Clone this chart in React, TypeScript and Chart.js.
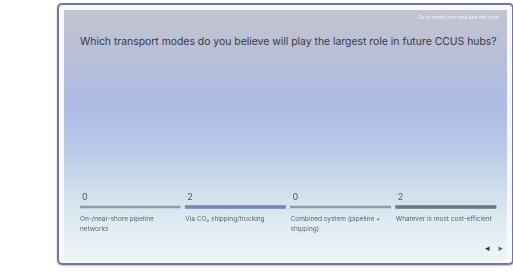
import React, { useEffect, useRef } from "react";
import { Chart, registerables } from "chart.js";

Chart.register(...registerables);

const title = "Which transport modes do you believe will play the largest role in future CCUS hubs?";
const headerNote = "Go to menti.com and use the code";
const categories: string[][] = [
  ["On-/near-shore pipeline", "networks"],
  ["Via CO₂ shipping/trucking"],
  ["Combined system (pipeline +", "shipping)"],
  ["Whatever is most cost-efficient"],
];
const votes = [0, 2, 0, 2];
const fillColors = ["#7d8ea0", "#7586c6", "#7d8ea0", "#687a82"];
const trackColor = "#8f9ba7";
const SPAN = 0.952;

export default function App() {
  const ref = useRef<HTMLCanvasElement | null>(null);
  useEffect(() => {
    if (!ref.current) return;
    const max = Math.max(...votes, 1);
    const fills = votes.map((v, i) => ({
      label: "fill" + i,
      data: [[i, i + (SPAN * v) / max]],
      backgroundColor: fillColors[i],
      barThickness: 3,
      grouped: false,
      borderWidth: 0,
    }));
    const tracks = votes.map((_, i) => ({
      label: "track" + i,
      data: [[i, i + SPAN]],
      backgroundColor: trackColor,
      barThickness: 2,
      grouped: false,
      borderWidth: 0,
    }));
    const textPlugin = {
      id: "texts",
      afterDatasetsDraw(chart: any) {
        const { ctx } = chart;
        const xs = chart.scales.x;
        const ys = chart.scales.y;
        const yc = ys.getPixelForValue(0);
        ctx.save();
        ctx.textBaseline = "middle";
        ctx.textAlign = "left";
        votes.forEach((v, i) => {
          const x = xs.getPixelForValue(i);
          ctx.fillStyle = "#50555e";
          ctx.font = "9px Inter, 'Open Sans', sans-serif";
          ctx.fillText(String(v), x + 2, yc - 10);
          ctx.fillStyle = "#5d626c";
          ctx.font = "6.5px Inter, 'Open Sans', sans-serif";
          categories[i].forEach((line, k) => {
            ctx.fillText(line, x, yc + 12 + k * 10.5);
          });
        });
        ctx.restore();
      },
    };
    const chart = new Chart(ref.current, {
      type: "bar",
      data: { labels: ["row"], datasets: [...fills, ...tracks] as any },
      options: {
        indexAxis: "y",
        animation: false,
        responsive: false,
        maintainAspectRatio: false,
        layout: { padding: { left: 80, right: 12, top: 200, bottom: 59 } },
        scales: {
          x: { type: "linear", min: 0, max: 4, display: false },
          y: { display: false },
        },
        plugins: { legend: { display: false }, tooltip: { enabled: false }, title: { display: false } },
      },
      plugins: [textPlugin],
    });
    return () => chart.destroy();
  }, []);

  return (
    <div style={{ position: "fixed", left: 0, top: 0, width: 513, height: 273, background: "#ffffff", overflow: "hidden" }}>
      <div
        style={{
          position: "absolute",
          left: 57,
          top: 3,
          width: 453,
          height: 258,
          border: "2px solid #76749a",
          borderRadius: 5,
          background: "#f6f8fb",
          boxShadow: "0 1px 2px rgba(80,80,110,0.35)",
        }}
      />
      <div
        style={{
          position: "absolute",
          left: 64,
          top: 10,
          width: 443,
          height: 250,
          background:
            "linear-gradient(180deg, #c2c4d0 0%, #b9bfd8 18%, #aebbe3 38%, #b9c9e7 55%, #cfdfec 72%, #e2eef3 88%, #eef5f7 100%)",
        }}
      />
      <div
        style={{
          position: "absolute",
          left: 418,
          top: 14,
          fontFamily: "Inter, sans-serif",
          fontSize: 5,
          color: "rgba(255,255,255,0.8)",
          whiteSpace: "nowrap",
        }}
      >
        {headerNote}
      </div>
      <div
        style={{
          position: "absolute",
          left: 80,
          top: 35,
          fontFamily: "Inter, sans-serif",
          fontSize: 10.4,
          color: "#363943",
          whiteSpace: "nowrap",
        }}
      >
        {title}
      </div>
      <canvas ref={ref} width={513} height={273} style={{ position: "absolute", left: 0, top: 0, width: 513, height: 273 }} />
      <div
        style={{
          position: "absolute",
          left: 485,
          top: 243,
          fontFamily: "DejaVu Sans, sans-serif",
          fontSize: 9,
          color: "#2f3440",
          whiteSpace: "nowrap",
          letterSpacing: 9,
        }}
      >
        {"◂"}
        <span style={{ color: "#6a6f3a" }}>{"▸"}</span>
      </div>
    </div>
  );
}
